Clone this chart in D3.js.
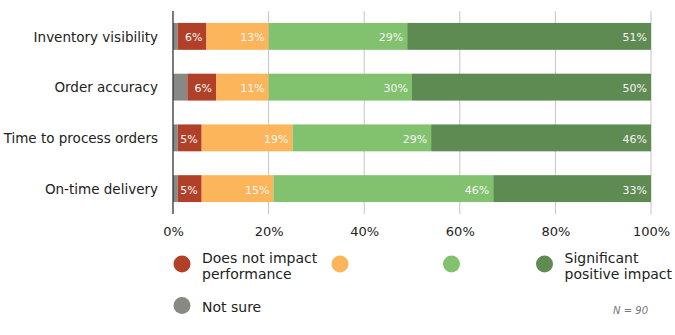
<!DOCTYPE html>
<html>
<head>
<meta charset="utf-8">
<script src="https://cdn.jsdelivr.net/npm/d3@7/dist/d3.min.js"></script>
<style>
  body { margin: 0; background: #fff; }
  svg { display: block; font-family: "DejaVu Sans", Verdana, sans-serif; }
</style>
</head>
<body>
<svg id="chart" width="675" height="335"></svg>
<script>
// categories, top to bottom
const categories = ['Inventory visibility', 'Order accuracy', 'Time to process orders', 'On-time delivery'];
// series, stacked left to right (percent of respondents)
const notSure      = [1, 3, 1, 1];
const noImpact     = [6, 6, 5, 5];
const someImpact   = [13, 11, 19, 15];
const moreImpact   = [29, 30, 29, 46];
const significant  = [51, 50, 46, 33];
const seriesNames = ['Not sure', 'Does not impact performance', 'Low', 'Moderate', 'Significant positive impact'];
const seriesValues = [notSure, noImpact, someImpact, moreImpact, significant];
const seriesColors = ['#888985', '#b04128', '#fdb55b', '#82c26f', '#5e8b52'];
const tickValues = [0, 20, 40, 60, 80, 100];
const sampleNote = 'N = 90';

const FONT = '"DejaVu Sans", Verdana, sans-serif';
const svg = d3.select('#chart');
const margin = {top: 11, right: 24, bottom: 121, left: 173};
const width = 675 - margin.left - margin.right;
const height = 335 - margin.top - margin.bottom;

const g = svg.append('g').attr('transform', `translate(${margin.left},${margin.top})`);

const x = d3.scaleLinear().domain([0, 100]).range([0, width]);
const y = d3.scaleBand().domain(categories).range([0, height]).paddingInner(0.47).paddingOuter(0.235);

// rows for the stack
const rows = categories.map((c, i) => {
  const r = {category: c};
  seriesValues.forEach((vals, k) => { r['s' + k] = vals[i]; });
  return r;
});
const keys = seriesValues.map((_, k) => 's' + k);
const stacked = d3.stack().keys(keys)(rows);

/* GRID */
g.append('g').attr('class', 'grid')
  .selectAll('line').data(tickValues.slice(1)).join('line')
  .attr('x1', d => x(d)).attr('x2', d => x(d))
  .attr('y1', 0).attr('y2', height)
  .attr('stroke', '#c4c4c4').attr('stroke-width', 1);

/* BARS */
const layer = g.selectAll('g.layer').data(stacked).join('g')
  .attr('class', 'layer')
  .attr('fill', (d, k) => seriesColors[k]);

layer.selectAll('rect').data(d => d).join('rect')
  .attr('x', d => x(d[0]))
  .attr('y', d => y(d.data.category))
  .attr('width', d => x(d[1]) - x(d[0]))
  .attr('height', y.bandwidth());

// value labels, skipping the 'not sure' slice
layer.filter((d, k) => k > 0)
  .selectAll('text').data(d => d).join('text')
  .attr('x', d => x(d[1]) - 4)
  .attr('y', d => y(d.data.category) + y.bandwidth() / 2)
  .attr('dy', '0.45em')
  .attr('text-anchor', 'end')
  .attr('fill', '#f6f6f6')
  .style('font-size', '11px')
  .text(d => `${d[1] - d[0]}%`);

/* AXES */
const xAxis = d3.axisBottom(x).tickValues(tickValues).tickSize(0).tickFormat(d => d + '%');
g.append('g').attr('transform', `translate(0,${height})`).call(xAxis)
  .attr('font-family', FONT)
  .call(a => a.select('.domain').remove())
  .selectAll('text')
  .attr('dy', 0).attr('y', 22)
  .attr('fill', '#222')
  .style('font-size', '13px');

g.append('line')
  .attr('x1', 0).attr('x2', 0).attr('y1', 0).attr('y2', height)
  .attr('stroke', '#333').attr('stroke-width', 1.3);

const yAxis = d3.axisLeft(y).tickSize(0).tickPadding(15);
g.append('g').call(yAxis)
  .attr('font-family', FONT)
  .call(a => a.select('.domain').remove())
  .selectAll('text')
  .attr('dy', '0.38em')
  .attr('fill', '#222')
  .style('font-size', '13.5px');

/* LEGEND */
const legendItems = [
  {k: 1, x: 182, y: 264, lines: ['Does not impact', 'performance']},
  {k: 2, x: 340, y: 264, lines: []},
  {k: 3, x: 451.5, y: 264, lines: []},
  {k: 4, x: 544.5, y: 264, lines: ['Significant', 'positive impact']},
  {k: 0, x: 182, y: 305.5, lines: ['Not sure']}
];
const legend = svg.append('g').attr('class', 'legend')
  .selectAll('g').data(legendItems).join('g')
  .attr('transform', d => `translate(${d.x},${d.y})`);

legend.append('circle').attr('r', 8.5).attr('fill', d => seriesColors[d.k]);
legend.append('text')
  .attr('x', 20)
  .attr('fill', '#222')
  .style('font-size', '14px')
  .selectAll('tspan').data(d => d.lines.map((t, i) => ({t, i, n: d.lines.length}))).join('tspan')
  .attr('x', 20)
  .attr('y', d => d.n > 1 ? (d.i === 0 ? -1 : 15) : 6)
  .text(d => d.t);

svg.append('text')
  .attr('x', 648).attr('y', 314)
  .attr('text-anchor', 'end')
  .attr('fill', '#777')
  .style('font-size', '10px')
  .style('font-style', 'italic')
  .text(sampleNote);
</script>
</body>
</html>
